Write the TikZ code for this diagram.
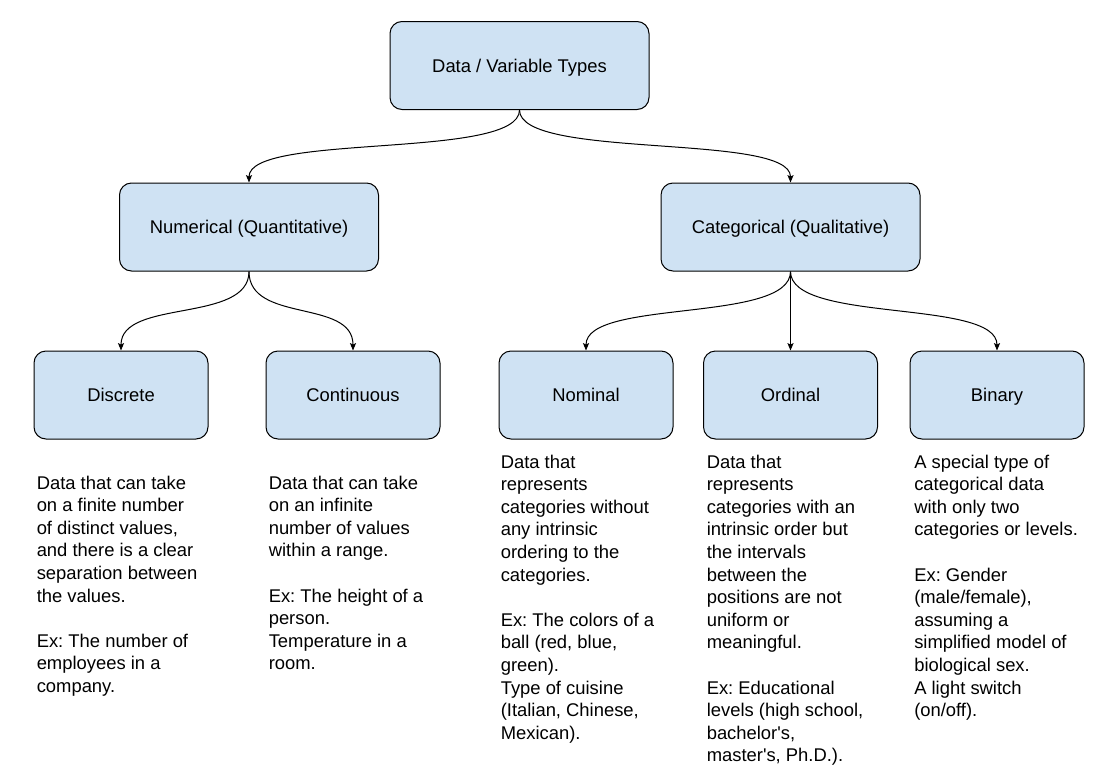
\documentclass[tikz,border=0pt]{standalone}
\usepackage{fontspec}
\setmainfont{Liberation Sans}
\usetikzlibrary{arrows.meta}
\definecolor{boxfill}{HTML}{CFE2F3}
\frenchspacing
\begin{document}
\begin{tikzpicture}[x=0.75pt,y=-0.75pt,
  txt/.style={font=\fontsize{13.8pt}{16.95pt}\selectfont\frenchspacing},
  typebox/.style={txt,draw=black,line width=0.75pt,fill=boxfill,
    rounded corners=9pt,inner sep=0pt,text height=9.9pt,text depth=0pt,
    minimum height=88*0.75pt},
  widebox/.style={typebox,minimum width=259*0.75pt},
  smallbox/.style={typebox,minimum width=174*0.75pt},
  note/.style={txt,anchor=base west,inner sep=0pt},
  conn/.style={line width=0.75pt,-{Stealth[length=5.5pt,width=4.5pt,inset=1pt]}}]
\useasboundingbox (0,0) rectangle (1117,778);

% boxes
\node[widebox] (root) at (519.5,65.5) {Data / Variable Types};
\node[widebox] (num) at (249,227) {Numerical (Quantitative)};
\node[widebox] (cat) at (790.5,227) {Categorical (Qualitative)};
\node[smallbox] (disc) at (121,395) {Discrete};
\node[smallbox] (cont) at (353,395) {Continuous};
\node[smallbox] (nom) at (586,395) {Nominal};
\node[smallbox] (ord) at (790.5,395) {Ordinal};
\node[smallbox] (bin) at (997,395) {Binary};

% connectors
\draw[conn] (root.south) .. controls +(0,50) and +(0,-50) .. (num.north);
\draw[conn] (root.south) .. controls +(0,50) and +(0,-50) .. (cat.north);
\draw[conn] (num.south) .. controls +(0,52) and +(0,-52) .. (disc.north);
\draw[conn] (num.south) .. controls +(0,52) and +(0,-52) .. (cont.north);
\draw[conn] (cat.south) .. controls +(0,52) and +(0,-52) .. (nom.north);
\draw[conn] (cat.south) -- (ord.north);
\draw[conn] (cat.south) .. controls +(0,52) and +(0,-52) .. (bin.north);

% descriptions
\node[note] (discnote) at (36.5,489) {\vtop{%
  \hbox{Data that can take}\hbox{on a finite number}\hbox{of distinct values,}%
  \hbox{and there is a clear}\hbox{separation between}\hbox{the values.}\hbox{}%
  \hbox{Ex: The number of}\hbox{employees in a}\hbox{company.}}};
\node[note] (contnote) at (268.5,489) {\vtop{%
  \hbox{Data that can take}\hbox{on an infinite}\hbox{number of values}%
  \hbox{within a range.}\hbox{}%
  \hbox{Ex: The height of a}\hbox{person.}\hbox{Temperature in a}\hbox{room.}}};
\node[note] (nomnote) at (500.5,468) {\vtop{%
  \hbox{Data that}\hbox{represents}\hbox{categories without}\hbox{any intrinsic}%
  \hbox{ordering to the}\hbox{categories.}\hbox{}%
  \hbox{Ex: The colors of a}\hbox{ball (red, blue,}\hbox{green).}%
  \hbox{Type of cuisine}\hbox{(Italian, Chinese,}\hbox{Mexican).}}};
\node[note] (ordnote) at (706.5,468) {\vtop{%
  \hbox{Data that}\hbox{represents}\hbox{categories with an}\hbox{intrinsic order but}%
  \hbox{the intervals}\hbox{between the}\hbox{positions are not}\hbox{uniform or}%
  \hbox{meaningful.}\hbox{}%
  \hbox{Ex: Educational}\hbox{levels (high school,}\hbox{bachelor\textquotesingle s,}%
  \hbox{master\textquotesingle s, Ph.D.).}}};
\node[note] (binnote) at (914,468) {\vtop{%
  \hbox{A special type of}\hbox{categorical data}\hbox{with only two}%
  \hbox{categories or levels.}\hbox{}%
  \hbox{Ex: Gender}\hbox{(male/female),}\hbox{assuming a}%
  \hbox{simplified model of}\hbox{biological sex.}\hbox{A light switch}\hbox{(on/off).}}};
\end{tikzpicture}
\end{document}
